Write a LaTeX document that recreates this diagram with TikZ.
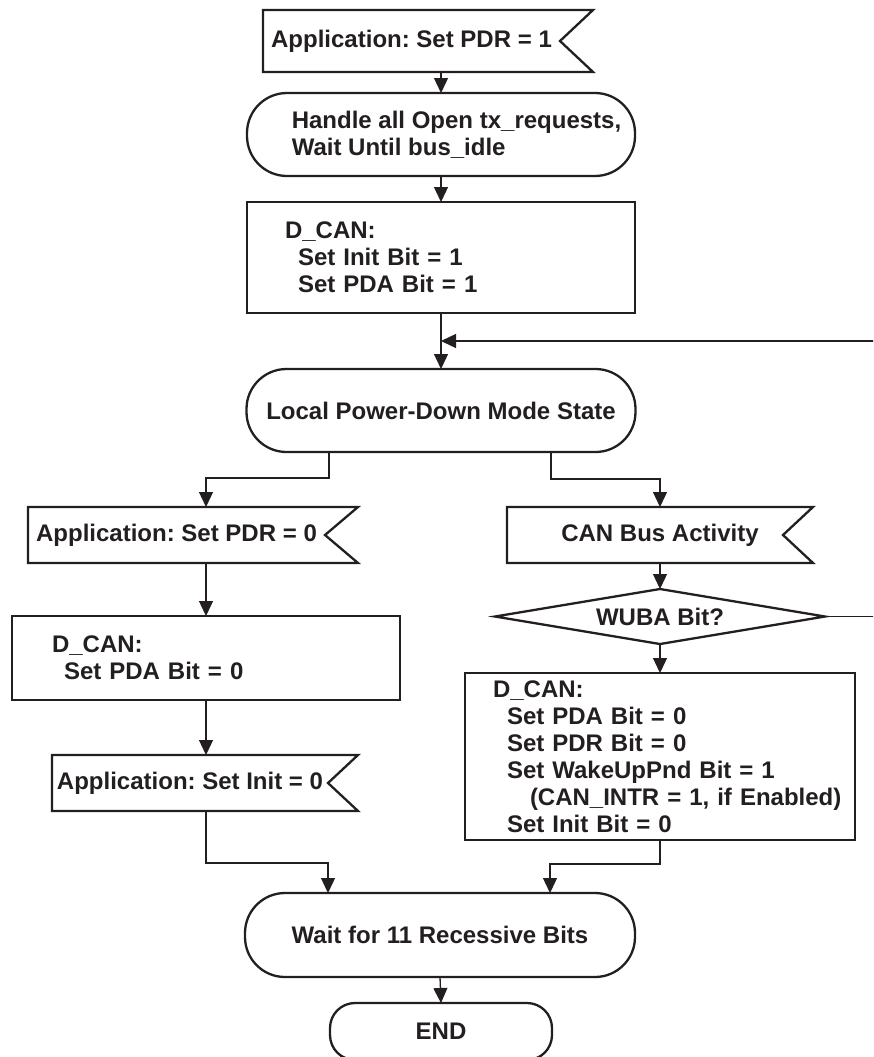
\documentclass[tikz,border=0pt]{standalone}
\usepackage{fontspec}
\setmainfont{Liberation Sans}
\usetikzlibrary{arrows.meta,shapes.geometric}
\definecolor{ink}{RGB}{35,31,32}
\newcommand{\flagedge}[2]{\draw[outline] (#1.north west) -- ([xshift=#2]#1.north east) -- (#1.east) -- ([xshift=#2]#1.south east) -- (#1.south west) -- cycle;}
\tikzset{
  outline/.style={draw=ink, line width=2.3pt},
  txt/.style={text=ink, font=\fontsize{24}{27}\selectfont\bfseries\frenchspacing},
  flag/.style={txt, rectangle, inner sep=0pt, outer sep=0pt},
  procbox/.style={outline, txt, rectangle, align=left, outer sep=0pt},
  term/.style={outline, txt, rectangle, rounded corners=40pt, align=center, inner sep=0pt, outer sep=0pt},
  decision/.style={outline, txt, diamond, aspect=6, inner sep=0pt, outer sep=0pt},
  arr/.style={draw=ink, line width=1.3pt, -{Triangle[length=15pt,width=14pt]}}
}
\begin{document}
\begin{tikzpicture}[x=1pt, y=-1pt]
    \useasboundingbox (0,0) rectangle (873,1057);
    \clip (0,0) rectangle (873,1057);

    \node[flag, minimum width=297pt, minimum height=62pt] (pdr1) at (411.5,41) {Application: Set PDR = 1};
    \node[term, minimum width=388pt, minimum height=83pt, align=left] (handle) at (441,134.5)
        {\hspace*{31pt}Handle all Open tx\_requests,\\\hspace*{31pt}Wait Until bus\_idle};
    \node[procbox, minimum width=388pt, minimum height=111pt, text width=312pt, inner xsep=38pt] (dcan1) at (441,257.5)
        {D\_CAN:\\\hspace*{13pt}Set Init Bit = 1\\\hspace*{13pt}Set PDA Bit = 1};
    \coordinate (merge) at (441,341);
    \node[term, minimum width=389pt, minimum height=83pt] (local) at (441,410.5) {Local Power-Down Mode State};

    \node[flag, minimum width=297pt, minimum height=56pt] (pdr0) at (176.5,535) {Application: Set PDR = 0};
    \node[procbox, minimum width=388pt, minimum height=84pt, text width=308pt, inner xsep=40pt] (dcan2) at (206,658)
        {D\_CAN:\\\hspace*{12pt}Set PDA Bit = 0};
    \node[flag, minimum width=276pt, minimum height=56pt] (init0) at (190,783) {Application: Set Init = 0};

    \node[flag, minimum width=276pt, minimum height=56pt] (canbus) at (645,535) {\hspace*{30pt}CAN Bus Activity};
    \node[decision, minimum width=330pt, minimum height=55pt] (wuba) at (660,616.5) {WUBA Bit?};
    \node[procbox, minimum width=390pt, minimum height=167pt, text width=374pt, inner xsep=8pt] (dcan3) at (660,756.5)
        {\hspace*{20pt}D\_CAN:\\\hspace*{34pt}Set PDA Bit = 0\\\hspace*{34pt}Set PDR Bit = 0\\\hspace*{34pt}Set WakeUpPnd Bit = 1\\\hspace*{57pt}(CAN\_INTR = 1, if Enabled)\\\hspace*{34pt}Set Init Bit = 0};

    \node[term, minimum width=390pt, minimum height=84pt] (wait) at (440,935) {Wait for 11 Recessive Bits};
    \node[term, rounded corners=25pt, minimum width=222pt, minimum height=57pt] (finish) at (441,1031.5) {END};

    \flagedge{pdr1}{33pt}
    \flagedge{pdr0}{33pt}
    \flagedge{init0}{30pt}
    \flagedge{canbus}{30pt}

    \draw[arr] (pdr1.south -| handle.north) -- (handle.north);
    \draw[arr] (handle.south) -- (dcan1.north);
    \draw[arr] (dcan1.south) -- (local.north);
    \draw[arr] ([xshift=-112pt]local.south) -- ++(0,26) -| (pdr0.north -| dcan2.north);
    \draw[arr] ([xshift=110pt]local.south) -- ++(0,27) -| (canbus.north -| wuba.north);
    \draw[arr] (pdr0.south -| dcan2.north) -- (dcan2.north);
    \draw[arr] (dcan2.south) -- (init0.north -| dcan2.south);
    \draw[arr] (canbus.south -| wuba.north) -- (wuba.north);
    \draw[arr] (wuba.south) -- (dcan3.north);
    \draw[arr] (wuba.east) -- ++(80,0) |- (merge);
    \draw[arr] (init0.south -| dcan2.south) -- ++(0,52) -| ([xshift=-112pt]wait.north);
    \draw[arr] (dcan3.south) -- ++(0,24) -| ([xshift=110pt]wait.north);
    \draw[arr] (wait.south) -- (finish.north);
\end{tikzpicture}
\end{document}
